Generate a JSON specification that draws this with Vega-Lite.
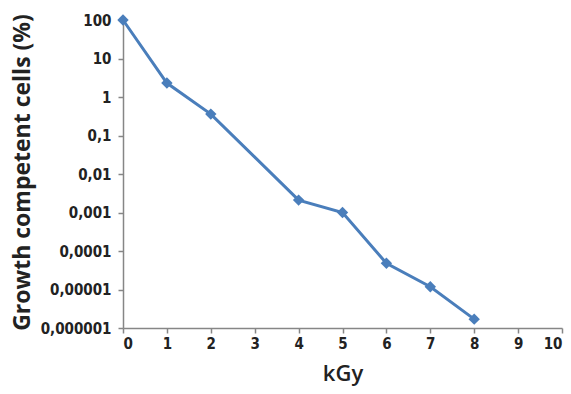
{
  "$schema": "https://vega.github.io/schema/vega-lite/v6.json",
  "width": 439,
  "height": 308,
  "autosize": {"type": "none"},
  "padding": {"left": 123, "top": 20, "right": 9, "bottom": 66},
  "background": "white",
  "config": {"view": {"stroke": null}},
  "data": {
    "values": [
      {"kGy": 0, "cells": 100},
      {"kGy": 1, "cells": 2.3},
      {"kGy": 2, "cells": 0.36},
      {"kGy": 4, "cells": 0.0021},
      {"kGy": 5, "cells": 0.001},
      {"kGy": 6, "cells": 0.000048},
      {"kGy": 7, "cells": 0.0000118},
      {"kGy": 8, "cells": 0.0000017}
    ]
  },
  "mark": {
    "type": "line",
    "color": "#4a7ebb",
    "strokeWidth": 3,
    "point": {"shape": "diamond", "size": 130, "color": "#4a7ebb", "filled": true, "opacity": 1}
  },
  "encoding": {
    "x": {
      "field": "kGy",
      "type": "quantitative",
      "scale": {"domain": [0, 10], "nice": false, "zero": false},
      "axis": {
        "title": "kGy",
        "values": [0, 1, 2, 3, 4, 5, 6, 7, 8, 9, 10],
        "grid": false,
        "domainColor": "#868686",
        "domainWidth": 1.5,
        "tickColor": "#868686",
        "tickSize": 5,
        "tickWidth": 1.5,
        "labelFont": "DejaVu Sans Condensed, DejaVu Sans",
        "labelFontWeight": "bold",
        "labelFontSize": 15,
        "labelColor": "#222222",
        "labelPadding": 3,
        "titleFont": "Open Sans",
        "titleFontWeight": 600,
        "titleFontSize": 22,
        "titleColor": "#222222",
        "titleX": 219.5,
        "titleY": 45,
        "titleAlign": "center",
        "titleBaseline": "middle"
      }
    },
    "y": {
      "field": "cells",
      "type": "quantitative",
      "scale": {"type": "log", "domain": [0.000001, 100], "nice": false},
      "axis": {
        "title": "Growth competent cells (%)",
        "values": [0.000001, 0.00001, 0.0001, 0.001, 0.01, 0.1, 1, 10, 100],
        "labelExpr": "datum.value >= 1 ? format(datum.value, 'd') : replace(format(datum.value, '.6~f'), '.', ',')",
        "grid": false,
        "domainColor": "#868686",
        "domainWidth": 1.5,
        "tickColor": "#868686",
        "tickSize": 5,
        "tickWidth": 1.5,
        "labelFont": "DejaVu Sans Condensed, DejaVu Sans",
        "labelFontWeight": "bold",
        "labelFontSize": 15,
        "labelColor": "#222222",
        "labelPadding": 7,
        "titleFont": "Open Sans",
        "titleFontWeight": "bold",
        "titleFontSize": 23,
        "titleColor": "#222222",
        "titleAngle": -90,
        "titleX": -101,
        "titleY": 152,
        "titleAlign": "center",
        "titleBaseline": "middle"
      }
    }
  }
}
